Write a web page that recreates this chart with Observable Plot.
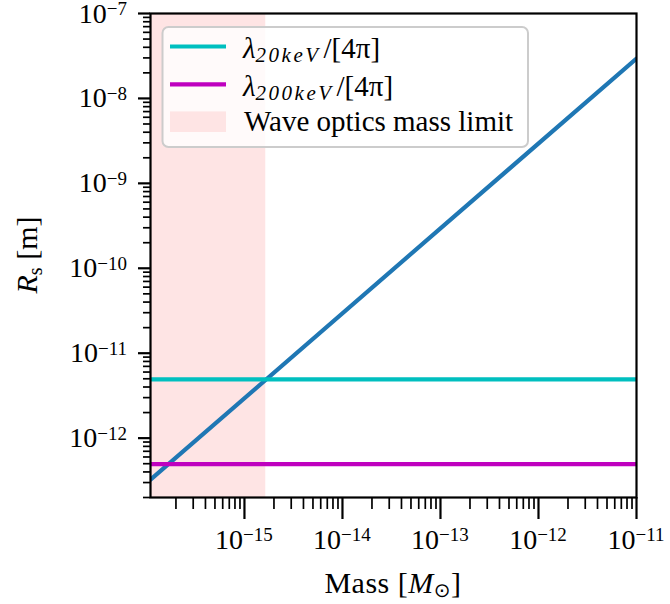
<!DOCTYPE html>
<html>
<head>
<meta charset="utf-8">
<script src="https://cdn.jsdelivr.net/npm/d3@7"></script>
<script src="https://cdn.jsdelivr.net/npm/@observablehq/plot@0.6"></script>
<style>
  html, body { margin: 0; padding: 0; background: #fff; }
  svg { display: block; }
  svg text, svg tspan { font-family: "Liberation Serif", "DejaVu Serif", serif; }
</style>
</head>
<body>
<div id="chart"></div>
<script>
// ---- data ----
const xDomain = [1.1e-16, 1e-11];           // Mass [M_sun]
const yDomain = [2e-13, 1e-7];              // R_s [m]
const mass = [1.1e-16, 1e-11];              // Schwarzschild radius line endpoints
const schwarzschild = [3.25e-13, 2.95e-8];
const lambda20 = 4.93e-12;                  // λ_20keV / [4π]
const lambda200 = 4.93e-13;                 // λ_200keV / [4π]
const waveLimit = 1.65e-15;                 // wave optics mass limit
const xMajor = [1e-15, 1e-14, 1e-13, 1e-12, 1e-11];
const xMajorExp = ["\u221215", "\u221214", "\u221213", "\u221212", "\u221211"];
const yMajor = [1e-12, 1e-11, 1e-10, 1e-9, 1e-8, 1e-7];
const yMajorExp = ["\u221212", "\u221211", "\u221210", "\u22129", "\u22128", "\u22127"];
const xMinorDecades = [-16, -15, -14, -13, -12];
const yMinorDecades = [-13, -12, -11, -10, -9, -8];
const minorMultipliers = [2, 3, 4, 5, 6, 7, 8, 9];

const C_BLUE = "#1f77b4", C_CYAN = "#00bfbf", C_MAG = "#bf00bf", C_BAND = "#fee4e4";
const FONT = "Liberation Serif, DejaVu Serif, serif";

function minors(decades, domain) {
  const out = [];
  for (const d of decades) for (const k of minorMultipliers) {
    const v = k * Math.pow(10, d);
    if (v >= domain[0] * 0.999 && v <= domain[1] * 1.001) out.push(v);
  }
  return out;
}
const xMinor = minors(xMinorDecades, xDomain);
const yMinor = minors(yMinorDecades, yDomain);

const W = 670, H = 604;
const mL = 150, mR = 34, mT = 13, mB = 107;

const line = mass.map((m, i) => ({m, r: schwarzschild[i]}));

const plot = Plot.plot({
  width: W, height: H,
  marginLeft: mL, marginRight: mR, marginTop: mT, marginBottom: mB,
  style: {fontFamily: FONT, background: "white", color: "black", overflow: "visible"},
  x: {type: "log", domain: xDomain, axis: null},
  y: {type: "log", domain: yDomain, axis: null},
  marks: [
    Plot.rect([waveLimit], {x1: () => xDomain[0], x2: d => d, y1: () => yDomain[0], y2: () => yDomain[1], fill: C_BAND}),
    Plot.line(line, {x: "m", y: "r", stroke: C_BLUE, strokeWidth: 4.2, clip: true}),
    Plot.ruleY([lambda20], {stroke: C_CYAN, strokeWidth: 4.2}),
    Plot.ruleY([lambda200], {stroke: C_MAG, strokeWidth: 4.2}),
    Plot.axisX({ticks: xMinor, tickSize: 12, strokeWidth: 1.7, tickFormat: () => "", label: null, anchor: "bottom"}),
    Plot.axisX({ticks: xMajor, tickSize: 22, strokeWidth: 2.2, tickFormat: () => "", label: null, anchor: "bottom"}),
    Plot.axisY({ticks: yMinor, tickSize: 7, strokeWidth: 1.7, tickFormat: () => "", label: null, anchor: "left"}),
    Plot.axisY({ticks: yMajor, tickSize: 12, strokeWidth: 2.2, tickFormat: () => "", label: null, anchor: "left"}),
    Plot.frame({stroke: "black", strokeWidth: 2.2})
  ]
});
document.getElementById("chart").appendChild(plot);

const xs = plot.scale("x"), ys = plot.scale("y");
const svg = d3.select(plot);
const g = svg.append("g").style("font-family", FONT).attr("fill", "black");

function txt(parent) {
  return parent.append("text").style("font-family", FONT);
}

// x tick labels
const frameBottom = H - mB;
xMajor.forEach((v, i) => {
  const t = txt(g)
    .attr("x", xs.apply(v)).attr("y", frameBottom + 52)
    .attr("text-anchor", "middle").style("font-size", "28px");
  t.append("tspan").text("10");
  t.append("tspan").attr("dy", -8).style("font-size", "19px").text(xMajorExp[i]);
});

// y tick labels
yMajor.forEach((v, i) => {
  const t = txt(g)
    .attr("x", mL - 23).attr("y", ys.apply(v) + 9.5)
    .attr("text-anchor", "end").style("font-size", "28px");
  t.append("tspan").text("10");
  t.append("tspan").attr("dy", -7.5).style("font-size", "19px").text(yMajorExp[i]);
});

// x axis label
const xl = txt(g)
  .attr("x", (mL + W - mR) / 2).attr("y", 593)
  .attr("text-anchor", "middle").style("font-size", "30px").style("letter-spacing", "0.5px");
xl.append("tspan").text("Mass [");
xl.append("tspan").style("font-style", "italic").text("M");
xl.append("tspan").attr("dy", 4).style("font-size", "20px").style("font-family", "DejaVu Sans").text("\u2299");
xl.append("tspan").attr("dy", -4).text("]");

// y axis label
const yl = txt(g)
  .attr("transform", `translate(37,${(mT + H - mB) / 2}) rotate(-90)`)
  .attr("text-anchor", "middle").style("font-size", "30px");
yl.append("tspan").style("font-style", "italic").text("R");
yl.append("tspan").attr("dy", 5).style("font-size", "20px").text("s");
yl.append("tspan").attr("dy", -5).text(" [m]");

// legend
const lg = svg.append("g").style("font-family", FONT).attr("fill", "black").attr("text-anchor", "start");
lg.append("rect")
  .attr("x", 162.5).attr("y", 27).attr("width", 365.5).attr("height", 120)
  .attr("rx", 6).attr("fill", "white").attr("fill-opacity", 0.8)
  .attr("stroke", "#cccccc").attr("stroke-width", 2);

const legendItems = [
  {kind: "line", color: C_CYAN, cy: 46.5, base: 58, sub: "20keV"},
  {kind: "line", color: C_MAG, cy: 84.3, base: 96, sub: "200keV"},
  {kind: "patch", color: C_BAND, cy: 121.7, base: 131, label: "Wave optics mass limit"}
];
legendItems.forEach(it => {
  if (it.kind === "line") {
    lg.append("line").attr("x1", 170).attr("x2", 226).attr("y1", it.cy).attr("y2", it.cy)
      .attr("stroke", it.color).attr("stroke-width", 4.2);
    const t = txt(lg).attr("x", 243).attr("y", it.base).style("font-size", "29px")
      .attr("text-anchor", "start");
    t.append("tspan").style("font-style", "italic").text("\u03bb");
    t.append("tspan").attr("dy", 4).style("font-size", "21px").style("font-style", "italic")
      .style("letter-spacing", "2.5px").text(it.sub);
    t.append("tspan").attr("dy", -4).attr("dx", 3).text("/[4\u03c0]");
  } else {
    lg.append("rect").attr("x", 170).attr("y", it.cy - 10.3).attr("width", 56).attr("height", 20.6)
      .attr("fill", it.color);
    txt(lg).attr("x", 244).attr("y", it.base).style("font-size", "29px")
      .attr("text-anchor", "start").text(it.label);
  }
});
</script>
</body>
</html>
